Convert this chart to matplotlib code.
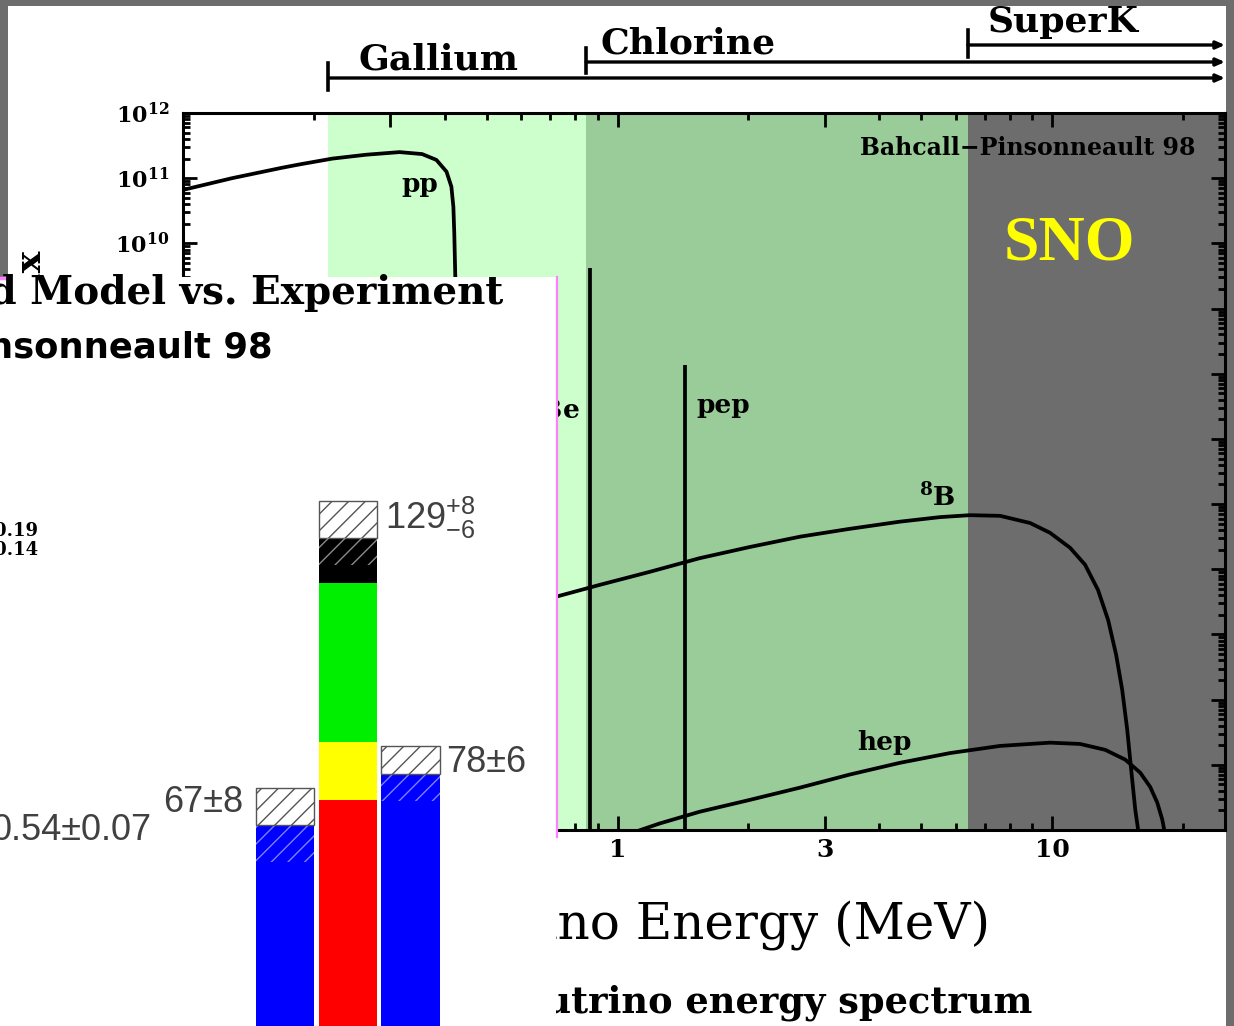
import numpy as np
import matplotlib
matplotlib.use("Agg")
import matplotlib.pyplot as plt
from matplotlib import transforms
from matplotlib.patches import Rectangle
from matplotlib.lines import Line2D
from matplotlib.ticker import FixedLocator, FixedFormatter, LogLocator, NullFormatter, FuncFormatter

plt.rcParams['font.family'] = ['DejaVu Serif']
plt.rcParams['font.weight'] = 'bold'
plt.rcParams['mathtext.fontset'] = 'dejavuserif'
plt.rcParams['hatch.linewidth'] = 1.0

# ---------------- data: solar neutrino spectrum ----------------
pp_energy = [0.1, 0.1297, 0.169, 0.185, 0.2205, 0.264, 0.315, 0.355, 0.383, 0.404,
             0.4146, 0.419, 0.421, 0.4233, 0.4236]
pp_logflux = [10.82, 11.00, 11.16, 11.21, 11.30, 11.36, 11.40, 11.37, 11.28, 11.10,
              10.87, 10.56, 10.16, 9.48, 0.5]

b8_energy = [0.723, 0.909, 1.185, 1.545, 2.01, 2.63, 3.42, 4.46, 5.52, 6.47, 7.59, 8.90,
             9.89, 11.00, 11.91, 12.76, 13.46, 14.04, 14.50, 14.89, 15.21, 15.54, 15.78, 15.87]
b8_logflux = [4.58, 4.76, 4.96, 5.17, 5.34, 5.50, 5.62, 5.73, 5.80, 5.83, 5.82, 5.71,
              5.56, 5.33, 5.07, 4.68, 4.22, 3.69, 3.15, 2.54, 1.92, 1.31, 1.0, 0.7]

hep_energy = [1.0, 1.25, 1.545, 2.01, 2.63, 3.42, 4.46, 5.82, 7.59, 9.89, 11.6, 13.25,
              14.73, 15.95, 16.82, 17.46, 17.93, 18.2]
hep_logflux = [0.88, 1.10, 1.28, 1.46, 1.65, 1.85, 2.03, 2.18, 2.29, 2.34, 2.32, 2.23,
               2.08, 1.88, 1.66, 1.42, 1.16, 0.93]

line_energy = [0.862, 1.43]          # 7Be, pep
line_logflux = [9.62, 8.13]

threshold_names = ['Gallium', 'Chlorine', 'SuperK']
threshold_energy = [0.216, 0.847, 6.4]

x_ticks = [0.1, 0.3, 1, 3, 10]
x_ticklabels = ['', '', '1', '3', '10']      # 0.1 and 0.3 lie under the inset
y_label_min_exp = 10                          # lower decade labels lie under the inset

# ---------------- data: total rates bar chart (gallium, SNU) ----------------
theory_parts = [72.4, 12.4, 34.4, 9.8]          # pp+pep, 8B, 7Be, CNO
theory_colors = ['#ff0000', '#ffff00', '#00ee00', '#000000']
theory_err = (8, 6)
exp_values = [67, 78]
exp_errors = [8, 6]

# ---------------- layout helpers ----------------
W, H = 1234, 1026
GRAY = '#6d6d6d'
LIGHT_GREEN = '#ccffcc'
MID_GREEN = '#99cc99'

fig = plt.figure(figsize=(W / 100, H / 100), dpi=100)
fig.patch.set_facecolor(GRAY)


def frect(x0, y0, x1, y1):
    return [x0 / W, 1 - y1 / H, (x1 - x0) / W, (y1 - y0) / H]


def fx(x):
    return x / W


def fy(y):
    return 1 - y / H


fig.add_artist(Rectangle((fx(8), fy(1026)), fx(1226) - fx(8), fy(6) - fy(1026),
                         transform=fig.transFigure, facecolor='white',
                         edgecolor='none', zorder=-10))

# ---------------- main spectrum axes ----------------
ax = fig.add_axes(frect(183, 113, 1225, 830))
ax.set_xscale('log')
ax.set_yscale('log')
ax.set_xlim(0.1, 25)
ax.set_ylim(1e1, 1e12)

bounds = threshold_energy + [25]
for (lo, hi), col in zip(zip(bounds[:-1], bounds[1:]), [LIGHT_GREEN, MID_GREEN, GRAY]):
    ax.axvspan(lo, hi, color=col, lw=0, zorder=0)

lw = 2.7
ckw = dict(color='k', lw=lw, zorder=3, solid_joinstyle='round', solid_capstyle='butt')
ax.plot(pp_energy, 10 ** np.array(pp_logflux), **ckw)
ax.plot(b8_energy, 10 ** np.array(b8_logflux), **ckw)
ax.plot(hep_energy, 10 ** np.array(hep_logflux), **ckw)
for e, lf in zip(line_energy, line_logflux):
    ax.plot([e, e], [1.0, 10 ** lf], **ckw)

lab_kw = dict(fontsize=19, fontweight='bold', ha='center', va='center', zorder=4)
ax.text(0.35, 10 ** 10.90, 'pp', **lab_kw)
ax.text(1.75, 10 ** 7.52, 'pep', **lab_kw)
ax.text(0.818, 10 ** 7.44, '$\\mathbf{^7Be}$', fontsize=19, ha='right', va='center', zorder=4)
ax.text(5.43, 10 ** 6.11, '$\\mathbf{^8B}$', **lab_kw)
ax.text(4.12, 10 ** 2.34, 'hep', **lab_kw)
ax.text(0.972, 0.951, 'Bahcall\u2212Pinsonneault 98', transform=ax.transAxes,
        fontsize=17, fontweight='bold', ha='right', va='center', zorder=4)
ax.text(0.851, 0.816, 'SNO', transform=ax.transAxes, color='#ffff00', fontsize=46,
        family=['Liberation Serif'], fontweight='bold', ha='center', va='center', zorder=4)

for s in ax.spines.values():
    s.set_linewidth(2.2)
    s.set_zorder(5)


def ylab(v, p):
    e = round(np.log10(v))
    return r'$\mathbf{10^{%d}}$' % e if e >= y_label_min_exp else ''


ax.xaxis.set_major_locator(FixedLocator(x_ticks))
ax.xaxis.set_major_formatter(FixedFormatter(x_ticklabels))
ax.xaxis.set_minor_locator(LogLocator(base=10, subs=(2, 4, 5, 6, 7, 8, 9), numticks=20))
ax.xaxis.set_minor_formatter(NullFormatter())
ax.yaxis.set_major_locator(LogLocator(base=10, numticks=20))
ax.yaxis.set_major_formatter(FuncFormatter(ylab))
ax.yaxis.set_minor_locator(LogLocator(base=10, subs=tuple(range(2, 10)), numticks=20))
ax.yaxis.set_minor_formatter(NullFormatter())
ax.tick_params(which='both', direction='in', top=True, right=True, width=2, colors='k')
ax.tick_params(which='major', length=10)
ax.tick_params(which='minor', length=5)
ax.tick_params(axis='x', which='major', labelsize=18, pad=6)
ax.tick_params(axis='y', which='major', labelsize=16, pad=10)

# threshold markers above the plot
blend = transforms.blended_transform_factory(ax.transData, fig.transFigure)
marker_rows = [(78, 63, 90, 358, 60), (62, 48, 73, 600, 43), (45, 30, 57, 988, 22)]
for name, thr, (yl, yt, yb, tx, ty) in zip(threshold_names, threshold_energy, marker_rows):
    ax.add_line(Line2D([thr, thr], [fy(yt), fy(yb)], transform=blend, color='k', lw=2.6, clip_on=False))
    ax.annotate('', xy=(25, fy(yl)), xytext=(thr, fy(yl)), xycoords=blend, textcoords=blend,
                arrowprops=dict(arrowstyle='-|>,head_length=0.5,head_width=0.22', lw=2.4,
                                color='k', shrinkA=0, shrinkB=0),
                annotation_clip=False)
    fig.text(fx(tx), fy(ty), name, fontsize=26, fontweight='bold', ha='left', va='center')

fig.text(fx(46), fy(249), 'Flux', rotation=90, fontsize=26, fontweight='bold', ha='right', va='top')
fig.text(fx(990), fy(925), 'Neutrino Energy (MeV)', fontsize=36, fontweight='normal',
         ha='right', va='center')
fig.text(fx(1032), fy(1003), 'The solar neutrino energy spectrum', fontsize=26.5,
         fontweight='bold', ha='right', va='center')

# ---------------- overlay: total rates bar chart ----------------
ov = fig.add_axes(frect(0, 277, 556, 1026))
ov.set_zorder(10)
ov.set_facecolor('white')
for s in ov.spines.values():
    s.set_visible(False)
ov.set_xticks([])
ov.set_yticks([])
ov.set_xlim(-4.542, 4.319)
ov.set_ylim(23.5, 185.3)

bw = 0.925
bottom = 0.0
for val, col in zip(theory_parts, theory_colors):
    ov.bar(1, val, bottom=bottom, width=bw, color=col, lw=0)
    bottom += val
total = bottom
ov.bar(1, theory_err[0], bottom=total, width=bw, facecolor='white', edgecolor='#555555',
       lw=1, hatch='//')
ov.bar(1, theory_err[1], bottom=total - theory_err[1], width=bw, facecolor='none',
       edgecolor='#8a8a8a', lw=0, hatch='//')

for pos, val, err in zip([0, 2], exp_values, exp_errors):
    ov.bar(pos, val, width=bw, color='#0000ff', lw=0)
    ov.bar(pos, err, bottom=val - err, width=bw, facecolor='none', edgecolor='#8080ff',
           lw=0, hatch='//')
    ov.bar(pos, err, bottom=val, width=bw, facecolor='white', edgecolor='#555555',
           lw=1, hatch='//')

num_kw = dict(family=['Liberation Sans'], fontweight='normal', color='#404040', fontsize=26,
              transform=fig.transFigure, va='center')
ov.text(fx(243), fy(803), f'{exp_values[0]}\u00b1{exp_errors[0]}', ha='right', **num_kw)
ov.text(fx(446), fy(762), f'{exp_values[1]}\u00b1{exp_errors[1]}', ha='left', **num_kw)
ov.text(fx(385), fy(518), r'$\mathregular{%d^{+%d}_{-%d}}$' % (round(total), theory_err[0], theory_err[1]),
        ha='left', **num_kw)
ov.text(fx(152), fy(830), '0.54\u00b10.07', ha='right', **num_kw)
ov.text(fx(38), fy(531), '+0.19', fontsize=13, fontweight='bold', ha='right', va='center',
        transform=fig.transFigure)
ov.text(fx(38), fy(550), '\u22120.14', fontsize=13, fontweight='bold', ha='right', va='center',
        transform=fig.transFigure)
ov.text(fx(503), fy(293), 'Standard Model vs. Experiment', fontsize=28, fontweight='bold',
        ha='right', va='center', transform=fig.transFigure)
ov.text(fx(273), fy(347), 'Bahcall-Pinsonneault 98', family=['DejaVu Sans'], fontsize=25.5,
        fontweight='bold', ha='right', va='center', transform=fig.transFigure)

ov.add_line(Line2D([fx(556.5), fx(556.5)], [fy(277), fy(837)], transform=fig.transFigure,
                   color='#ff80ff', lw=1.6, clip_on=False))
ov.add_line(Line2D([0, fx(6)], [fy(278), fy(278)], transform=fig.transFigure,
                   color='#ff80ff', lw=2.5, clip_on=False))

fig.savefig('out.png', dpi=100, facecolor=fig.get_facecolor())
